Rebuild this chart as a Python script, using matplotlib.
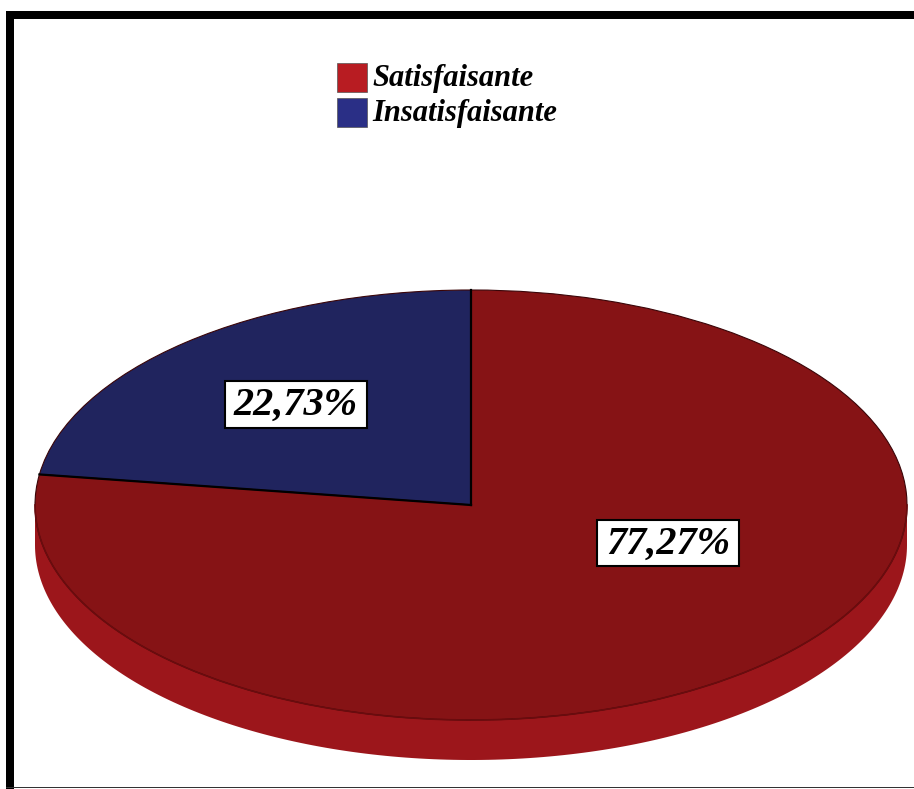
import numpy as np
import matplotlib.pyplot as plt
from matplotlib.patches import Wedge, Rectangle, Polygon
from matplotlib.transforms import Affine2D

categories = ['Satisfaisante', 'Insatisfaisante']
shares = [77.27, 22.73]
top_colors = ['#861315', '#20245e']
side_colors = ['#9c161b', '#2a2f78']
legend_colors = ['#b81c22', '#2a2f86']

fig = plt.figure(figsize=(9.14, 7.89), dpi=100)
ax = fig.add_axes([0, 0, 1, 1])
ax.set_xlim(0, 914)
ax.set_ylim(789, 0)
ax.axis('off')

# frame
ax.add_patch(Rectangle((6, 11), 908, 8, color='black', lw=0))
ax.add_patch(Rectangle((6, 11), 8, 778, color='black', lw=0))
ax.add_patch(Rectangle((6, 786.5), 908, 1.5, color='#333333', lw=0))

# pie geometry (pixels)
cx, cy, rx, ry, depth = 471, 505, 436, 215, 40
ell = Affine2D().scale(rx, -ry).translate(cx, cy) + ax.transData

# slices start at 12 o'clock and go counterclockwise, the smaller one first
order = [1, 0]
angles = {}
start = 90.0
for i in order:
    end = start + 360.0 * shares[i] / 100.0
    angles[i] = (start, end)
    start = end

# side wall on the front half (180..360 deg)
for i in order:
    t1, t2 = angles[i]
    lo, hi = max(t1, 180), min(t2, 360)
    if hi <= lo:
        continue
    t = np.radians(np.linspace(lo, hi, 200))
    xs = cx + rx * np.cos(t)
    ys = cy - ry * np.sin(t)
    pts = np.column_stack([np.r_[xs, xs[::-1]], np.r_[ys, ys[::-1] + depth]])
    ax.add_patch(Polygon(pts, closed=True, facecolor=side_colors[i],
                         edgecolor='none'))
    ax.plot(xs, ys, color='#6a0c0e', lw=1.2)

# top face
for i in order:
    t1, t2 = angles[i]
    ax.add_patch(Wedge((0, 0), 1, t1, t2, facecolor=top_colors[i],
                       edgecolor='none', transform=ell))
    ax.add_patch(Wedge((0, 0), 1, t1, t2, facecolor='none', edgecolor='#3a0508',
                       lw=0.8, transform=ell))

# radial divider lines
for i in order:
    a = np.radians(angles[i][0])
    ax.plot([cx, cx + rx * np.cos(a)], [cy, cy - ry * np.sin(a)],
            color='black', lw=1.6)

# value labels in white boxes
fig.canvas.draw()
renderer = fig.canvas.get_renderer()
inv = ax.transData.inverted()
label_pos = {0: (668, 544), 1: (296, 405)}
for i in order:
    txt = f"{shares[i]:.2f}".replace('.', ',') + '%'
    t = ax.text(*label_pos[i], txt, ha='center', va='center', fontsize=29,
                family='Liberation Serif', weight='bold', style='italic',
                color='black', zorder=5)
    bb = t.get_window_extent(renderer)
    (x0, y1), (x1, y0) = inv.transform([[bb.x0, bb.y0], [bb.x1, bb.y1]])
    ax.add_patch(Rectangle((x0 - 9, y0 - 6), (x1 - x0) + 18, (y1 - y0) + 10,
                           facecolor='white', edgecolor='black', lw=1.5,
                           zorder=4))

# legend
for k, name in enumerate(categories):
    y0 = 63 + k * 35
    ax.add_patch(Rectangle((337, y0), 30, 29, facecolor=legend_colors[k],
                           edgecolor='#555555', lw=0.5))
    ax.text(372, y0 + 15, name, ha='left', va='center', fontsize=22,
            family='Liberation Serif', weight='bold', style='italic',
            color='black')

fig.savefig('out.png', dpi=100)
